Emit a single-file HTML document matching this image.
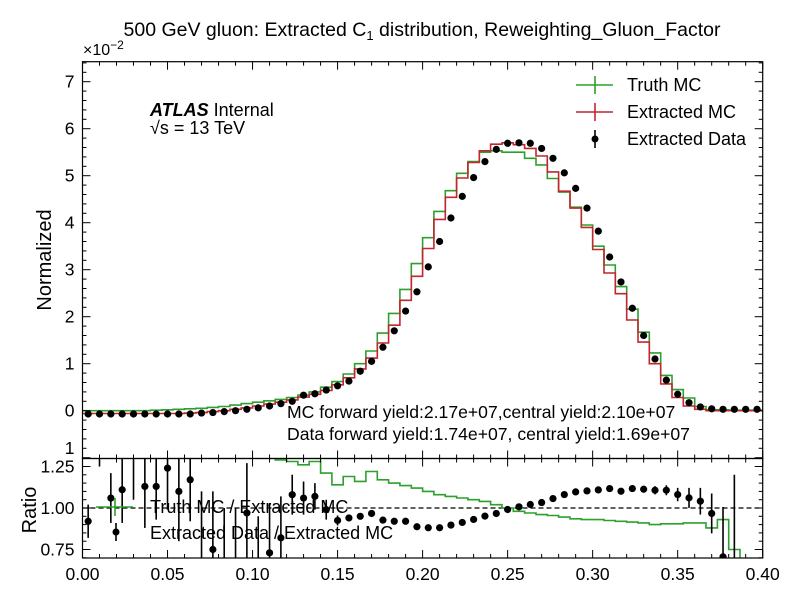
<!DOCTYPE html>
<html><head><meta charset="utf-8"><style>
html,body{margin:0;padding:0;background:#fff;overflow:hidden;width:799px;height:599px}
svg{font-family:"Liberation Sans",sans-serif;display:block}
</style></head><body>
<svg id="c" width="799" height="599" viewBox="0 0 799 599">
<rect x="0" y="0" width="799" height="599" fill="#fff"/>
<text x="422" y="36" font-size="19.5" text-anchor="middle">500 GeV gluon: Extracted C<tspan font-size="13" dy="4">1</tspan><tspan dy="-4"> distribution, Reweighting_Gluon_Factor</tspan></text>
<text x="83" y="55" font-size="16">×10<tspan font-size="12" dy="-6">−2</tspan></text>
<text x="51" y="260" font-size="20" text-anchor="middle" transform="rotate(-90 51 260)">Normalized</text>
<text x="36" y="510" font-size="20" text-anchor="middle" transform="rotate(-90 36 510)">Ratio</text>
<g id="main"></g>
<g id="ratio"></g>
<text x="150" y="116" font-size="18"><tspan font-weight="bold" font-style="italic">ATLAS</tspan> Internal</text>
<text x="150" y="134" font-size="18">√s = 13 TeV</text>
<text x="287" y="418" font-size="17.6">MC forward yield:2.17e+07,central yield:2.10e+07</text>
<text x="287" y="440" font-size="17.6">Data forward yield:1.74e+07, central yield:1.69e+07</text>
<g>
 <g><line x1="576" y1="85" x2="613" y2="85" stroke="#2ca02c" stroke-width="1.6"/><line x1="595" y1="76" x2="595" y2="94" stroke="#2ca02c" stroke-width="1.6"/><text x="627" y="91" font-size="18">Truth MC</text></g>
 <g><line x1="576" y1="112" x2="613" y2="112" stroke="#c1272d" stroke-width="1.6"/><line x1="595" y1="103" x2="595" y2="121" stroke="#c1272d" stroke-width="1.6"/><text x="627" y="118" font-size="18">Extracted MC</text></g>
 <g><line x1="595" y1="130" x2="595" y2="148" stroke="#000" stroke-width="1.6"/><circle cx="595" cy="139" r="3.5"/><text x="627" y="145" font-size="18">Extracted Data</text></g>
</g>
<g>
 <g><line x1="96" y1="507" x2="133" y2="507" stroke="#2ca02c" stroke-width="1.6"/><line x1="115" y1="498" x2="115" y2="516" stroke="#2ca02c" stroke-width="1.6"/><text x="150" y="513" font-size="18">Truth MC / Extracted MC</text></g>
 <g><line x1="116" y1="523" x2="116" y2="541" stroke="#000" stroke-width="1.6"/><circle cx="116" cy="532" r="3.5"/><text x="150" y="539" font-size="18">Extracted Data / Extracted MC</text></g>
</g>
</svg>
<script>
const binEdgesMax = 0.4;
const nBins = 60;
const truthMC = [0,0,0,0,0,0,0.01,0.02,0.03,0.04,0.05,0.07,0.09,0.12,0.15,0.18,0.21,0.24,0.28,0.33,0.4,0.5,0.62,0.78,1.0,1.27,1.65,2.07,2.58,3.13,3.68,4.24,4.68,5.05,5.3,5.5,5.53,5.5,5.5,5.37,5.23,4.94,4.65,4.33,3.95,3.5,3.1,2.64,2.16,1.67,1.23,0.75,0.45,0.27,0.09,0.02,0.02,0.01,0.01,0.01];
const extractedMC = [-0.06,-0.06,-0.06,-0.06,-0.06,-0.06,-0.06,-0.06,-0.06,-0.05,-0.04,-0.02,0,0.03,0.06,0.1,0.14,0.18,0.23,0.29,0.35,0.43,0.55,0.7,0.89,1.12,1.44,1.82,2.35,2.86,3.45,4.07,4.54,4.95,5.28,5.53,5.67,5.7,5.66,5.58,5.42,5.08,4.67,4.31,3.9,3.43,2.93,2.49,1.93,1.46,1.0,0.57,0.28,0.1,0.03,0,0,0,0,0];
const extractedData = [-0.07,-0.07,-0.07,-0.07,-0.07,-0.07,-0.07,-0.07,-0.07,-0.07,-0.05,-0.04,-0.02,0,0.03,0.06,0.1,0.15,0.2,0.33,0.36,0.44,0.53,0.63,0.84,1.05,1.35,1.7,2.12,2.53,3.06,3.6,4.1,4.56,4.96,5.3,5.56,5.69,5.7,5.69,5.58,5.37,5.06,4.73,4.31,3.82,3.27,2.74,2.18,1.6,1.1,0.65,0.35,0.17,0.08,0.04,0.03,0.03,0.03,0.03];
const ratioTruth = [1.5,1.5,1.5,1.5,1.5,1.5,1.5,1.5,1.5,1.5,1.5,1.5,1.5,1.5,1.5,1.5,1.3,1.29,1.28,1.26,1.28,1.21,1.14,1.19,1.16,1.22,1.17,1.15,1.135,1.12,1.1,1.08,1.07,1.06,1.05,1.04,1.02,1.0,0.98,0.97,0.96,0.955,0.945,0.935,0.93,0.93,0.925,0.92,0.915,0.91,0.9,0.905,0.905,0.91,0.91,0.88,0.93,0.75,0.5,null];
const ratioData = [0.92,1.45,1.06,1.11,1.4,1.13,1.13,1.24,1.1,1.17,0.6,0.75,0.5,0.6,0.97,0.55,0.73,0.82,1.08,1.06,1.07,0.99,0.925,0.94,0.95,0.967,0.927,0.92,0.92,0.887,0.881,0.881,0.897,0.913,0.931,0.951,0.967,0.991,1.007,1.021,1.033,1.057,1.081,1.097,1.103,1.109,1.117,1.101,1.117,1.113,1.107,1.107,1.081,1.061,1.041,0.967,0.706,0.5,null,null];
const ratioDataErr = [0.1,0.2,0.15,0.2,0.35,0.25,0.2,0.25,0.3,0.25,0.5,0.35,0.5,0.4,0.3,0.4,0.3,0.25,0.12,0.1,0.08,0.06,0.03,0.02,0.015,0.01,0.008,0.006,0.005,0.004,0.004,0.004,0.004,0.004,0.004,0.004,0.004,0.004,0.004,0.004,0.004,0.005,0.005,0.006,0.007,0.008,0.01,0.012,0.015,0.02,0.025,0.03,0.04,0.06,0.08,0.12,0.3,0.7,0,0];
const mainYTicks = [0,1,2,3,4,5,6,7];
const ratioYTicks = [0.75,1.00,1.25];
const xTicks = [0,0.05,0.1,0.15,0.2,0.25,0.3,0.35,0.4];

const NS='http://www.w3.org/2000/svg';
const X0=82.5,X1=762.7;
const MT=61.7,MB=458.5,RT=458.5,RB=558;
const xs=v=>X0+(v/binEdgesMax)*(X1-X0);
const ys=v=>410.7-v*47.0;
const yr=v=>508-(v-1)*166;
function el(tag,attrs,parent){const e=document.createElementNS(NS,tag);for(const k in attrs)e.setAttribute(k,attrs[k]);parent.appendChild(e);return e;}
const svg=document.getElementById('c');
const defs=el('defs',{},svg);
const cm=el('clipPath',{id:'cm'},defs);el('rect',{x:X0,y:MT,width:X1-X0,height:MB-MT},cm);
const cr=el('clipPath',{id:'cr'},defs);el('rect',{x:X0,y:RT,width:X1-X0,height:RB-RT},cr);
const main=document.getElementById('main'),ratio=document.getElementById('ratio');
const bw=binEdgesMax/nBins;
function stepPath(vals,yf){let d='';let pen=false;for(let i=0;i<nBins;i++){const v=vals[i];if(v===null){pen=false;continue;}const xa=xs(i*bw),xb=xs((i+1)*bw),y=yf(v);d+=(pen?'L':'M')+xa.toFixed(1)+','+y.toFixed(1)+'L'+xb.toFixed(1)+','+y.toFixed(1);pen=true;}return d;}
const gm=el('g',{'clip-path':'url(#cm)'},main);
const pt=el('path',{d:stepPath(truthMC,ys),fill:'none',stroke:'#2ca02c','stroke-width':1.6},gm);


const pe=el('path',{d:stepPath(extractedMC,ys),fill:'none',stroke:'#c1272d','stroke-width':1.6},gm);


extractedData.forEach((v,i)=>{const c=el('circle',{cx:xs((i+0.5)*bw),cy:ys(v),r:3.6,fill:'#000'},gm);

});
const gr=el('g',{'clip-path':'url(#cr)'},ratio);
el('line',{x1:X0,x2:X1,y1:yr(1),y2:yr(1),stroke:'#000','stroke-dasharray':'5,3','stroke-width':1.2},gr);
const prt=el('path',{d:stepPath(ratioTruth,yr),fill:'none',stroke:'#2ca02c','stroke-width':1.6},gr);


ratioData.forEach((v,i)=>{if(v===null)return;const cx=xs((i+0.5)*bw);const e=ratioDataErr[i];
const l=el('line',{x1:cx,x2:cx,y1:yr(v-e),y2:yr(v+e),stroke:'#000','stroke-width':1.6},gr);


const c=el('circle',{cx:cx,cy:yr(v),r:3.6,fill:'#000'},gr);

});
function frame(par,top,bot){el('rect',{x:X0,y:top,width:X1-X0,height:bot-top,fill:'none',stroke:'#000','stroke-width':1.2},par);}
frame(main,MT,MB);frame(ratio,RT,RB);
for(let k=0;k<=40;k++){const v=k*0.01;const x=xs(v);const major=k%5===0;const L=major?8:4;
[[MT,1],[MB,-1],[RT,1],[RB,-1]].forEach(([y,s])=>el('line',{x1:x,x2:x,y1:y,y2:y+s*L,stroke:'#000','stroke-width':1},svg));}
xTicks.forEach(v=>{const t=el('text',{x:xs(v),y:RB+22,'font-size':17.5,'text-anchor':'middle'},svg);t.textContent=v.toFixed(2);

});
for(let k=-5;k<=37;k++){const v=k*0.2;const y=ys(v);if(y<MT||y>MB)continue;const major=k%5===0;const L=major?8:4;
el('line',{x1:X0,x2:X0+L,y1:y,y2:y,stroke:'#000'},svg);el('line',{x1:X1,x2:X1-L,y1:y,y2:y,stroke:'#000'},svg);}
mainYTicks.forEach(v=>{const t=el('text',{x:X0-8,y:ys(v)+6,'font-size':17.5,'text-anchor':'end'},svg);t.textContent=v;

});
const tm=el('text',{x:X0-8,y:454,'font-size':17.5,'text-anchor':'end'},svg);tm.textContent='1';


for(let k=14;k<=26;k++){const v=k*0.05;const y=yr(v);if(y<RT||y>RB)continue;const major=k%5===0;const L=major?8:4;
el('line',{x1:X0,x2:X0+L,y1:y,y2:y,stroke:'#000'},svg);el('line',{x1:X1,x2:X1-L,y1:y,y2:y,stroke:'#000'},svg);}
ratioYTicks.forEach(v=>{const t=el('text',{x:X0-8,y:yr(v)+6,'font-size':17.5,'text-anchor':'end'},svg);t.textContent=v.toFixed(2);

});
</script>
</body></html>
